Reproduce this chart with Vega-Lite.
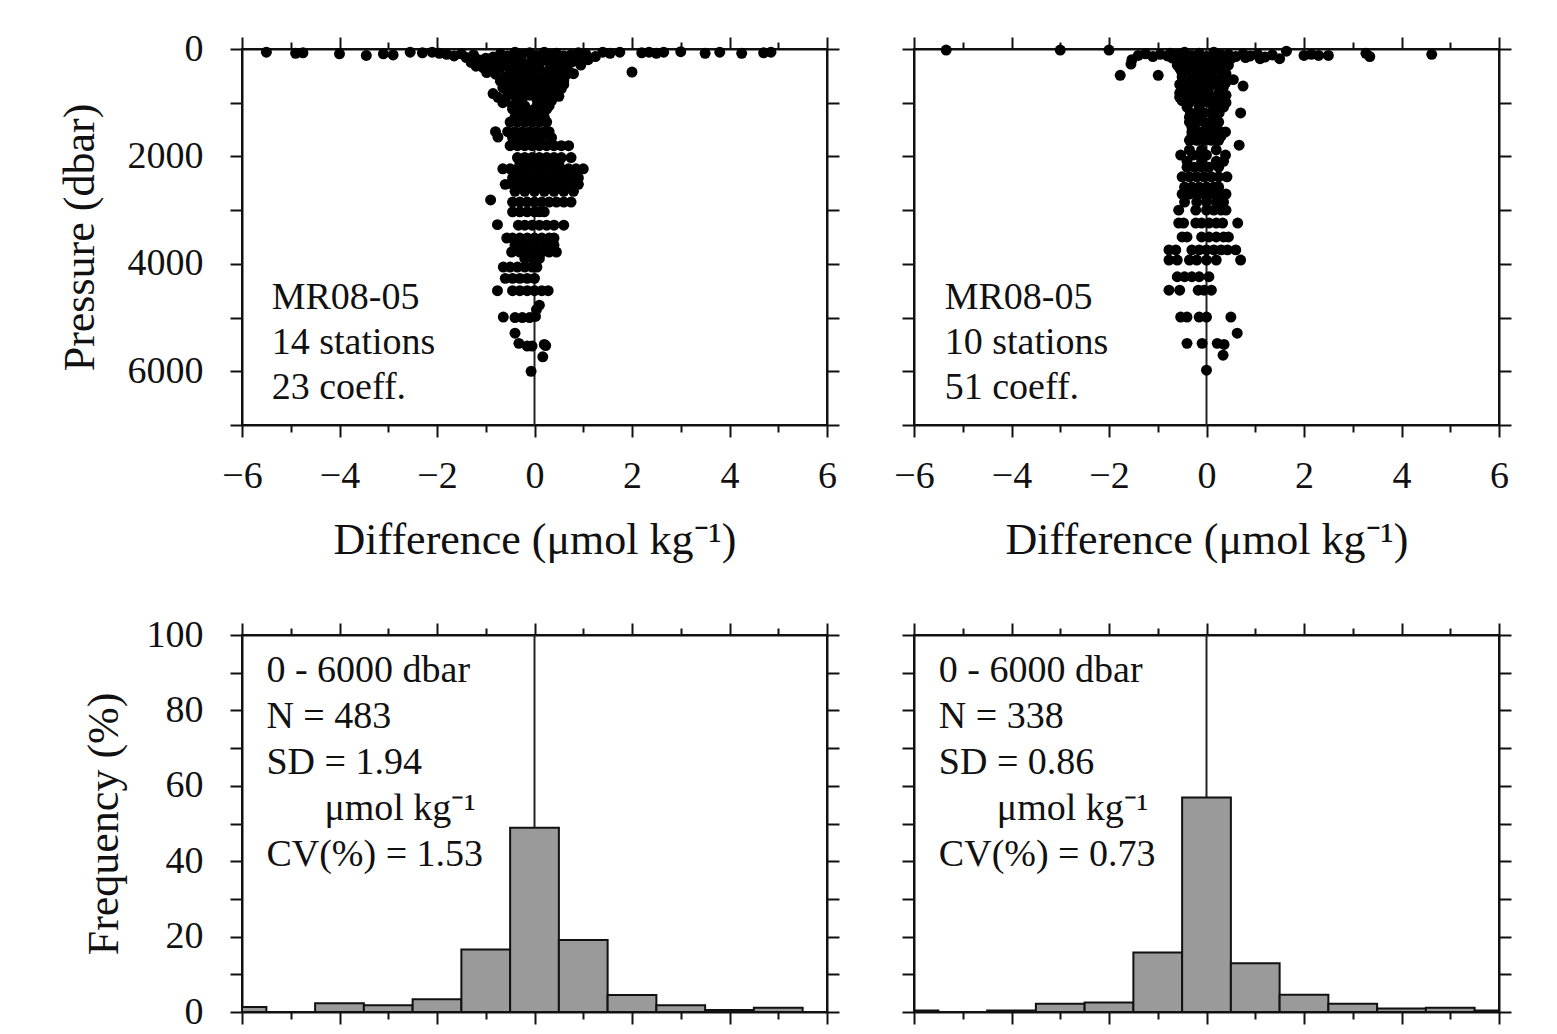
{
  "$schema": "https://vega.github.io/schema/vega-lite/v6.json",
  "padding": {"left": 57, "top": 29, "right": 5, "bottom": 5},
  "background": "white",
  "columns": 2,
  "spacing": {"row": 52, "column": 51},
  "datasets": {
    "left": [
      {"pres":60,"diff":-5.5},{"pres":80,"diff":-4.9},{"pres":70,"diff":-4.75},{"pres":90,"diff":-4.0},{"pres":120,"diff":-3.45},{"pres":90,"diff":-3.1},{"pres":110,"diff":-2.9},{"pres":60,"diff":-2.55},{"pres":70,"diff":-2.3},{"pres":60,"diff":-2.1},{"pres":80,"diff":-1.95},{"pres":100,"diff":-1.8},{"pres":130,"diff":-1.65},{"pres":90,"diff":-1.5},{"pres":160,"diff":-1.4},{"pres":110,"diff":-1.25},{"pres":200,"diff":-1.15},{"pres":350,"diff":-1.05},{"pres":440,"diff":-0.98},{"pres":150,"diff":-0.85},{"pres":90,"diff":-0.7},{"pres":130,"diff":-0.55},{"pres":60,"diff":-0.4},{"pres":100,"diff":-0.25},{"pres":70,"diff":-0.1},{"pres":120,"diff":0.05},{"pres":60,"diff":0.2},{"pres":100,"diff":0.35},{"pres":80,"diff":0.45},{"pres":130,"diff":0.6},{"pres":110,"diff":0.75},{"pres":70,"diff":0.9},{"pres":90,"diff":1.05},{"pres":140,"diff":1.25},{"pres":60,"diff":1.4},{"pres":80,"diff":1.55},{"pres":60,"diff":1.75},{"pres":430,"diff":2.0},{"pres":70,"diff":2.2},{"pres":60,"diff":2.35},{"pres":80,"diff":2.5},{"pres":60,"diff":2.65},{"pres":50,"diff":3.0},{"pres":80,"diff":3.5},{"pres":60,"diff":3.8},{"pres":80,"diff":4.25},{"pres":70,"diff":4.7},{"pres":60,"diff":4.85},
      {"pres":170,"diff":-1.0},{"pres":180,"diff":-0.7},{"pres":170,"diff":-0.35},{"pres":180,"diff":-0.05},{"pres":170,"diff":0.25},{"pres":180,"diff":0.55},{"pres":170,"diff":0.85},
      {"pres":250,"diff":-1.3},{"pres":300,"diff":-1.1},{"pres":220,"diff":-0.9},{"pres":280,"diff":-0.75},{"pres":200,"diff":-0.6},{"pres":260,"diff":-0.45},{"pres":220,"diff":-0.3},{"pres":280,"diff":-0.15},{"pres":240,"diff":0},{"pres":210,"diff":0.15},{"pres":260,"diff":0.3},{"pres":230,"diff":0.45},{"pres":200,"diff":0.6},{"pres":250,"diff":0.75},{"pres":230,"diff":0.9},{"pres":200,"diff":1.1},
      {"pres":320,"diff":-1.2},{"pres":320,"diff":-0.85},{"pres":310,"diff":-0.55},{"pres":320,"diff":-0.25},{"pres":310,"diff":0.05},{"pres":320,"diff":0.35},{"pres":310,"diff":0.65},{"pres":300,"diff":0.95},
      {"pres":390,"diff":-0.9},{"pres":350,"diff":-0.7},{"pres":420,"diff":-0.5},{"pres":380,"diff":-0.35},{"pres":450,"diff":-0.2},{"pres":400,"diff":-0.05},{"pres":360,"diff":0.1},{"pres":430,"diff":0.25},{"pres":390,"diff":0.4},{"pres":350,"diff":0.55},{"pres":420,"diff":0.7},
      {"pres":470,"diff":-0.8},{"pres":470,"diff":-0.5},{"pres":460,"diff":-0.3},{"pres":470,"diff":0},{"pres":460,"diff":0.25},{"pres":470,"diff":0.5},{"pres":460,"diff":0.8},
      {"pres":520,"diff":-0.6},{"pres":560,"diff":-0.4},{"pres":500,"diff":-0.25},{"pres":580,"diff":-0.1},{"pres":520,"diff":0.05},{"pres":560,"diff":0.2},{"pres":500,"diff":0.35},{"pres":540,"diff":0.5},{"pres":480,"diff":0.65},
      {"pres":600,"diff":-0.7},{"pres":600,"diff":-0.45},{"pres":600,"diff":-0.2},{"pres":600,"diff":0.1},{"pres":600,"diff":0.35},{"pres":590,"diff":0.6},
      {"pres":640,"diff":-0.5},{"pres":680,"diff":-0.3},{"pres":620,"diff":-0.15},{"pres":700,"diff":0},{"pres":650,"diff":0.15},{"pres":690,"diff":0.3},{"pres":630,"diff":0.45},{"pres":660,"diff":0.6},
      {"pres":720,"diff":-0.65},{"pres":720,"diff":-0.4},{"pres":710,"diff":-0.1},{"pres":720,"diff":0.2},{"pres":710,"diff":0.5},
      {"pres":760,"diff":-0.55},{"pres":800,"diff":-0.35},{"pres":740,"diff":-0.2},{"pres":780,"diff":-0.05},{"pres":820,"diff":0.1},{"pres":760,"diff":0.25},{"pres":800,"diff":0.4},{"pres":740,"diff":0.55},
      {"pres":850,"diff":-0.55},{"pres":850,"diff":-0.3},{"pres":840,"diff":0},{"pres":850,"diff":0.3},{"pres":840,"diff":0.45},
      {"pres":830,"diff":-0.85},{"pres":900,"diff":-0.75},{"pres":960,"diff":-0.6},{"pres":880,"diff":-0.4},{"pres":920,"diff":-0.25},{"pres":860,"diff":-0.1},{"pres":940,"diff":0.05},{"pres":900,"diff":0.2},{"pres":960,"diff":0.35},{"pres":880,"diff":0.5},{"pres":1000,"diff":-0.65},{"pres":1000,"diff":-0.3},{"pres":1010,"diff":0.2},
      {"pres":1060,"diff":-0.45},{"pres":1060,"diff":-0.2},{"pres":1060,"diff":0.05},{"pres":1060,"diff":0.3},
      {"pres":1120,"diff":-0.45},{"pres":1120,"diff":-0.3},{"pres":1130,"diff":-0.15},{"pres":1120,"diff":0},{"pres":1130,"diff":0.15},{"pres":1120,"diff":0.25},{"pres":1200,"diff":-0.35},{"pres":1200,"diff":-0.1},{"pres":1200,"diff":0.1},
      {"pres":1270,"diff":-0.4},{"pres":1270,"diff":-0.2},{"pres":1270,"diff":0},{"pres":1270,"diff":0.2},
      {"pres":1360,"diff":-0.5},{"pres":1360,"diff":-0.35},{"pres":1360,"diff":-0.2},{"pres":1360,"diff":-0.05},{"pres":1360,"diff":0.1},{"pres":1360,"diff":0.25},
      {"pres":1540,"diff":-0.8},{"pres":1540,"diff":-0.55},{"pres":1540,"diff":-0.4},{"pres":1540,"diff":-0.25},{"pres":1540,"diff":-0.1},{"pres":1540,"diff":0.05},{"pres":1540,"diff":0.2},{"pres":1540,"diff":0.3},
      {"pres":1640,"diff":-0.75},{"pres":1650,"diff":-0.45},{"pres":1650,"diff":-0.3},{"pres":1650,"diff":-0.15},{"pres":1650,"diff":0},{"pres":1650,"diff":0.15},{"pres":1650,"diff":0.35},
      {"pres":1800,"diff":-0.5},{"pres":1800,"diff":-0.35},{"pres":1800,"diff":-0.2},{"pres":1800,"diff":-0.05},{"pres":1800,"diff":0.1},{"pres":1800,"diff":0.25},{"pres":1800,"diff":0.4},{"pres":1800,"diff":0.55},{"pres":1800,"diff":0.7},
      {"pres":2020,"diff":-0.35},{"pres":2020,"diff":-0.2},{"pres":2020,"diff":-0.05},{"pres":2020,"diff":0.1},{"pres":2020,"diff":0.25},{"pres":2020,"diff":0.4},{"pres":2020,"diff":0.55},{"pres":2020,"diff":0.75},
      {"pres":2120,"diff":-0.3},{"pres":2120,"diff":-0.1},{"pres":2120,"diff":0.1},{"pres":2120,"diff":0.3},{"pres":2120,"diff":0.5},
      {"pres":2230,"diff":-0.65},{"pres":2230,"diff":-0.5},{"pres":2230,"diff":-0.35},{"pres":2230,"diff":-0.2},{"pres":2230,"diff":-0.05},{"pres":2230,"diff":0.1},{"pres":2230,"diff":0.25},{"pres":2230,"diff":0.4},{"pres":2230,"diff":0.55},{"pres":2230,"diff":0.7},{"pres":2230,"diff":0.85},{"pres":2230,"diff":1.0},
      {"pres":2400,"diff":-0.45},{"pres":2400,"diff":-0.3},{"pres":2400,"diff":-0.15},{"pres":2400,"diff":0},{"pres":2400,"diff":0.15},{"pres":2400,"diff":0.3},{"pres":2400,"diff":0.45},{"pres":2400,"diff":0.6},{"pres":2400,"diff":0.75},{"pres":2400,"diff":0.9},
      {"pres":2520,"diff":-0.6},{"pres":2520,"diff":-0.45},{"pres":2520,"diff":-0.3},{"pres":2520,"diff":-0.15},{"pres":2520,"diff":0},{"pres":2520,"diff":0.15},{"pres":2520,"diff":0.3},{"pres":2520,"diff":0.45},{"pres":2520,"diff":0.6},{"pres":2520,"diff":0.75},{"pres":2520,"diff":0.9},
      {"pres":2650,"diff":-0.4},{"pres":2650,"diff":-0.2},{"pres":2650,"diff":0},{"pres":2650,"diff":0.2},{"pres":2650,"diff":0.4},{"pres":2650,"diff":0.6},{"pres":2650,"diff":0.8},
      {"pres":2810,"diff":-0.9},{"pres":2850,"diff":-0.45},{"pres":2850,"diff":-0.3},{"pres":2850,"diff":-0.15},{"pres":2850,"diff":0},{"pres":2850,"diff":0.15},{"pres":2850,"diff":0.3},{"pres":2850,"diff":0.45},{"pres":2850,"diff":0.6},{"pres":2850,"diff":0.75},
      {"pres":3030,"diff":-0.45},{"pres":3030,"diff":-0.3},{"pres":3030,"diff":-0.15},{"pres":3030,"diff":0},{"pres":3030,"diff":0.1},{"pres":3030,"diff":0.2},
      {"pres":3270,"diff":-0.76},{"pres":3280,"diff":-0.33},{"pres":3280,"diff":-0.2},{"pres":3280,"diff":-0.05},{"pres":3280,"diff":0.1},{"pres":3280,"diff":0.25},{"pres":3280,"diff":0.4},{"pres":3280,"diff":0.6},
      {"pres":3520,"diff":-0.57},{"pres":3520,"diff":-0.45},{"pres":3520,"diff":-0.3},{"pres":3520,"diff":-0.15},{"pres":3520,"diff":0},{"pres":3520,"diff":0.15},{"pres":3520,"diff":0.3},{"pres":3520,"diff":0.4},
      {"pres":3650,"diff":-0.4},{"pres":3650,"diff":-0.2},{"pres":3650,"diff":0},{"pres":3650,"diff":0.2},{"pres":3650,"diff":0.4},
      {"pres":3780,"diff":-0.47},{"pres":3780,"diff":-0.3},{"pres":3780,"diff":-0.15},{"pres":3780,"diff":0},{"pres":3780,"diff":0.15},{"pres":3780,"diff":0.3},{"pres":3780,"diff":0.45},
      {"pres":3900,"diff":-0.2},{"pres":3900,"diff":-0.05},{"pres":3900,"diff":0.1},
      {"pres":4060,"diff":-0.64},{"pres":4060,"diff":-0.5},{"pres":4060,"diff":-0.35},{"pres":4060,"diff":-0.2},{"pres":4060,"diff":-0.05},{"pres":4060,"diff":0.05},
      {"pres":4270,"diff":-0.6},{"pres":4270,"diff":-0.45},{"pres":4270,"diff":-0.3},{"pres":4270,"diff":-0.15},{"pres":4270,"diff":0},
      {"pres":4500,"diff":-0.76},{"pres":4500,"diff":-0.45},{"pres":4500,"diff":-0.3},{"pres":4500,"diff":-0.15},{"pres":4500,"diff":0},{"pres":4500,"diff":0.15},{"pres":4500,"diff":0.28},
      {"pres":4770,"diff":0.1},{"pres":4850,"diff":0.04},
      {"pres":4990,"diff":-0.64},{"pres":5000,"diff":-0.4},{"pres":5000,"diff":-0.25},{"pres":5000,"diff":-0.1},{"pres":4980,"diff":0.02},
      {"pres":5290,"diff":-0.4},{"pres":5480,"diff":-0.32},{"pres":5530,"diff":-0.15},{"pres":5530,"diff":-0.05},{"pres":5500,"diff":0.2},{"pres":5520,"diff":0.23},{"pres":5730,"diff":0.17},{"pres":6000,"diff":-0.07}
    ],
    "right": [
      {"pres":20,"diff":-5.34},{"pres":20,"diff":-3.0},{"pres":20,"diff":-2.0},{"pres":200,"diff":-1.53},{"pres":280,"diff":-1.55},{"pres":120,"diff":-1.4},{"pres":90,"diff":-1.25},{"pres":140,"diff":-1.1},{"pres":100,"diff":-0.95},{"pres":130,"diff":-0.8},{"pres":80,"diff":-0.74},{"pres":490,"diff":-1.77},{"pres":490,"diff":-0.99},
      {"pres":100,"diff":0.45},{"pres":140,"diff":0.6},{"pres":90,"diff":0.75},{"pres":130,"diff":0.9},{"pres":100,"diff":1.05},{"pres":150,"diff":1.2},{"pres":110,"diff":1.35},{"pres":180,"diff":1.5},{"pres":40,"diff":1.64},{"pres":120,"diff":2.0},{"pres":100,"diff":2.15},{"pres":120,"diff":2.3},{"pres":120,"diff":2.5},{"pres":80,"diff":3.27},{"pres":140,"diff":3.35},{"pres":100,"diff":4.62},{"pres":570,"diff":0.55},{"pres":690,"diff":0.75},
      {"pres":100,"diff":-0.6},{"pres":60,"diff":-0.45},{"pres":120,"diff":-0.3},{"pres":80,"diff":-0.15},{"pres":140,"diff":0},{"pres":60,"diff":0.15},{"pres":110,"diff":0.3},
      {"pres":170,"diff":-0.7},{"pres":170,"diff":-0.4},{"pres":180,"diff":-0.1},{"pres":170,"diff":0.2},{"pres":180,"diff":0.5},{"pres":160,"diff":0.8},{"pres":180,"diff":1.1},
      {"pres":220,"diff":-0.5},{"pres":260,"diff":-0.35},{"pres":200,"diff":-0.2},{"pres":240,"diff":-0.05},{"pres":280,"diff":0.1},{"pres":220,"diff":0.25},{"pres":260,"diff":0.4},
      {"pres":300,"diff":-0.6},{"pres":310,"diff":-0.45},{"pres":300,"diff":-0.15},{"pres":310,"diff":0.2},{"pres":300,"diff":0.45},
      {"pres":360,"diff":-0.55},{"pres":400,"diff":-0.4},{"pres":340,"diff":-0.25},{"pres":380,"diff":-0.1},{"pres":420,"diff":0.05},{"pres":360,"diff":0.2},{"pres":400,"diff":0.35},
      {"pres":450,"diff":-0.5},{"pres":460,"diff":-0.2},{"pres":450,"diff":0.1},{"pres":460,"diff":0.4},
      {"pres":520,"diff":-0.5},{"pres":560,"diff":-0.3},{"pres":500,"diff":-0.15},{"pres":540,"diff":0},{"pres":580,"diff":0.15},{"pres":520,"diff":0.3},
      {"pres":620,"diff":-0.5},{"pres":600,"diff":-0.2},{"pres":610,"diff":0.1},{"pres":620,"diff":0.4},
      {"pres":660,"diff":-0.55},{"pres":700,"diff":-0.4},{"pres":640,"diff":-0.25},{"pres":680,"diff":-0.1},{"pres":720,"diff":0.05},{"pres":660,"diff":0.2},{"pres":700,"diff":0.35},
      {"pres":760,"diff":-0.5},{"pres":770,"diff":-0.3},{"pres":760,"diff":0},{"pres":770,"diff":0.3},
      {"pres":820,"diff":-0.55},{"pres":860,"diff":-0.4},{"pres":800,"diff":-0.2},{"pres":840,"diff":-0.05},{"pres":880,"diff":0.1},{"pres":820,"diff":0.25},{"pres":860,"diff":0.4},
      {"pres":900,"diff":-0.55},{"pres":910,"diff":-0.25},{"pres":900,"diff":0.05},{"pres":910,"diff":0.3},
      {"pres":960,"diff":-0.5},{"pres":1000,"diff":-0.35},{"pres":940,"diff":-0.2},{"pres":980,"diff":-0.05},{"pres":1020,"diff":0.1},{"pres":960,"diff":0.25},{"pres":1000,"diff":0.4},
      {"pres":1080,"diff":-0.4},{"pres":1080,"diff":-0.15},{"pres":1080,"diff":0.15},{"pres":1080,"diff":0.35},
      {"pres":1190,"diff":-0.33},{"pres":1190,"diff":-0.2},{"pres":1190,"diff":-0.05},{"pres":1190,"diff":0.1},{"pres":1190,"diff":0.26},{"pres":1190,"diff":0.7},
      {"pres":1270,"diff":-0.35},{"pres":1270,"diff":-0.1},{"pres":1270,"diff":0.15},
      {"pres":1360,"diff":-0.35},{"pres":1360,"diff":-0.2},{"pres":1360,"diff":-0.05},{"pres":1360,"diff":0.1},{"pres":1360,"diff":0.25},
      {"pres":1450,"diff":-0.3},{"pres":1450,"diff":0},{"pres":1450,"diff":0.2},
      {"pres":1545,"diff":-0.3},{"pres":1545,"diff":-0.15},{"pres":1545,"diff":0},{"pres":1545,"diff":0.15},{"pres":1545,"diff":0.3},{"pres":1545,"diff":0.39},
      {"pres":1620,"diff":-0.3},{"pres":1620,"diff":0.05},{"pres":1620,"diff":0.3},
      {"pres":1700,"diff":-0.35},{"pres":1700,"diff":-0.2},{"pres":1700,"diff":-0.05},{"pres":1700,"diff":0.1},{"pres":1700,"diff":0.25},{"pres":1790,"diff":0.67},
      {"pres":1880,"diff":-0.35},{"pres":1880,"diff":-0.1},{"pres":1880,"diff":0.2},
      {"pres":1975,"diff":-0.53},{"pres":1975,"diff":-0.28},{"pres":1975,"diff":-0.15},{"pres":1975,"diff":0},{"pres":1975,"diff":0.39},
      {"pres":2090,"diff":-0.4},{"pres":2090,"diff":-0.1},{"pres":2090,"diff":0.2},{"pres":2090,"diff":0.35},
      {"pres":2200,"diff":-0.4},{"pres":2200,"diff":-0.25},{"pres":2200,"diff":-0.1},{"pres":2200,"diff":0.05},{"pres":2200,"diff":0.25},
      {"pres":2380,"diff":-0.5},{"pres":2380,"diff":-0.35},{"pres":2380,"diff":-0.2},{"pres":2380,"diff":-0.05},{"pres":2380,"diff":0.1},{"pres":2380,"diff":0.25},{"pres":2380,"diff":0.42},
      {"pres":2570,"diff":-0.45},{"pres":2570,"diff":-0.3},{"pres":2570,"diff":-0.15},{"pres":2570,"diff":0},{"pres":2570,"diff":0.15},{"pres":2570,"diff":0.25},
      {"pres":2700,"diff":-0.5},{"pres":2700,"diff":-0.35},{"pres":2700,"diff":-0.2},{"pres":2700,"diff":-0.05},{"pres":2700,"diff":0.1},{"pres":2700,"diff":0.25},{"pres":2700,"diff":0.4},
      {"pres":2850,"diff":-0.45},{"pres":2850,"diff":-0.2},{"pres":2850,"diff":0},{"pres":2850,"diff":0.2},{"pres":2850,"diff":0.35},
      {"pres":3000,"diff":-0.57},{"pres":3000,"diff":-0.22},{"pres":3000,"diff":0},{"pres":3000,"diff":0.15},{"pres":3000,"diff":0.3},{"pres":3000,"diff":0.4},
      {"pres":3240,"diff":-0.57},{"pres":3240,"diff":-0.47},{"pres":3240,"diff":-0.22},{"pres":3240,"diff":-0.1},{"pres":3240,"diff":0.05},{"pres":3240,"diff":0.2},{"pres":3240,"diff":0.33},{"pres":3240,"diff":0.64},
      {"pres":3500,"diff":-0.5},{"pres":3500,"diff":-0.4},{"pres":3500,"diff":-0.1},{"pres":3500,"diff":0.05},{"pres":3500,"diff":0.2},{"pres":3500,"diff":0.35},{"pres":3500,"diff":0.45},
      {"pres":3740,"diff":-0.77},{"pres":3740,"diff":-0.63},{"pres":3740,"diff":-0.3},{"pres":3740,"diff":-0.15},{"pres":3740,"diff":0},{"pres":3740,"diff":0.15},{"pres":3740,"diff":0.3},{"pres":3740,"diff":0.43},{"pres":3740,"diff":0.6},
      {"pres":3930,"diff":-0.77},{"pres":3930,"diff":-0.6},{"pres":3930,"diff":-0.35},{"pres":3930,"diff":-0.2},{"pres":3930,"diff":0},{"pres":3930,"diff":0.2},{"pres":3930,"diff":0.7},
      {"pres":4240,"diff":-0.6},{"pres":4240,"diff":-0.45},{"pres":4240,"diff":-0.3},{"pres":4240,"diff":-0.15},{"pres":4240,"diff":0.05},
      {"pres":4490,"diff":-0.77},{"pres":4490,"diff":-0.55},{"pres":4490,"diff":-0.17},{"pres":4490,"diff":-0.05},{"pres":4490,"diff":0.1},
      {"pres":4990,"diff":-0.53},{"pres":4990,"diff":-0.4},{"pres":4990,"diff":-0.15},{"pres":4990,"diff":0},{"pres":4990,"diff":0.5},
      {"pres":5290,"diff":0.63},{"pres":5480,"diff":-0.4},{"pres":5480,"diff":-0.09},{"pres":5480,"diff":0.22},{"pres":5500,"diff":0.36},{"pres":5700,"diff":0.34},{"pres":5980,"diff":0}
    ],
    "histLeft": [
      {"lo":-6,"hi":-5.5,"freq":1.3},{"lo":-4.5,"hi":-3.5,"freq":2.3},{"lo":-3.5,"hi":-2.5,"freq":1.8},{"lo":-2.5,"hi":-1.5,"freq":3.4},{"lo":-1.5,"hi":-0.5,"freq":16.6},{"lo":-0.5,"hi":0.5,"freq":48.9},{"lo":0.5,"hi":1.5,"freq":19.1},{"lo":1.5,"hi":2.5,"freq":4.5},{"lo":2.5,"hi":3.5,"freq":1.8},{"lo":3.5,"hi":4.5,"freq":0.5},{"lo":4.5,"hi":5.5,"freq":1.1}
    ],
    "histRight": [
      {"lo":-6,"hi":-5.5,"freq":0.4},{"lo":-4.5,"hi":-3.5,"freq":0.4},{"lo":-3.5,"hi":-2.5,"freq":2.2},{"lo":-2.5,"hi":-1.5,"freq":2.5},{"lo":-1.5,"hi":-0.5,"freq":15.8},{"lo":-0.5,"hi":0.5,"freq":56.9},{"lo":0.5,"hi":1.5,"freq":12.9},{"lo":1.5,"hi":2.5,"freq":4.6},{"lo":2.5,"hi":3.5,"freq":2.2},{"lo":3.5,"hi":4.5,"freq":0.9},{"lo":4.5,"hi":5.5,"freq":1.1},{"lo":5.5,"hi":6,"freq":0.4}
    ]
  },
  "concat": [
    {
      "width": 585, "height": 376,
      "layer": [
        {"data": {"values": [{}]}, "mark": {"type": "rule", "color": "#222", "strokeWidth": 2},
         "encoding": {"x": {"datum": 0, "type": "quantitative", "scale": {"domain": [-6, 6], "nice": false, "zero": false},
           "axis": {"orient": "bottom", "values": [-6,-5,-4,-3,-2,-1,0,1,2,3,4,5,6], "labelExpr": "datum.value % 2 === 0 ? datum.label : ''", "tickSize": {"condition": {"test": "datum.value % 2 === 0", "value": 12}, "value": 7}, "labelPadding": 20, "title": "Difference (μmol kg⁻¹)", "titlePadding": 23}}}},
        {"data": {"name": "left"}, "mark": {"type": "circle", "color": "black", "opacity": 1, "size": 120},
         "encoding": {
           "x": {"field": "diff", "type": "quantitative", "scale": {"domain": [-6, 6], "nice": false, "zero": false},
             "axis": {"orient": "top", "values": [-6,-5,-4,-3,-2,-1,0,1,2,3,4,5,6], "labels": false, "title": null, "tickSize": {"condition": {"test": "datum.value % 2 === 0", "value": 12}, "value": 7}}},
           "y": {"field": "pres", "type": "quantitative", "scale": {"domain": [0, 7000], "reverse": true, "nice": false, "zero": false},
             "axis": {"orient": "left", "values": [0,1000,2000,3000,4000,5000,6000,7000], "format": "d", "labelExpr": "datum.value % 2000 === 0 ? datum.label : ''", "tickSize": 12, "labelPadding": 27, "title": "Pressure (dbar)", "titlePadding": 25}}}},
        {"data": {"values": [{}]}, "mark": {"type": "text", "text": ["MR08-05", "14 stations", "23 coeff."], "align": "left", "baseline": "top", "font": "Liberation Serif", "fontSize": 38, "lineHeight": 45, "color": "#111"},
         "encoding": {"x": {"datum": -5.39, "type": "quantitative", "axis": null},
           "y": {"datum": 4290, "type": "quantitative", "axis": {"orient": "right", "values": [0,1000,2000,3000,4000,5000,6000,7000], "labels": false, "title": null, "tickSize": 12}}}}
      ],
      "resolve": {"axis": {"x": "independent", "y": "independent"}}
    },
    {
      "width": 585, "height": 376,
      "layer": [
        {"data": {"values": [{}]}, "mark": {"type": "rule", "color": "#222", "strokeWidth": 2},
         "encoding": {"x": {"datum": 0, "type": "quantitative", "scale": {"domain": [-6, 6], "nice": false, "zero": false},
           "axis": {"orient": "bottom", "values": [-6,-5,-4,-3,-2,-1,0,1,2,3,4,5,6], "labelExpr": "datum.value % 2 === 0 ? datum.label : ''", "tickSize": {"condition": {"test": "datum.value % 2 === 0", "value": 12}, "value": 7}, "labelPadding": 20, "title": "Difference (μmol kg⁻¹)", "titlePadding": 23}}}},
        {"data": {"name": "right"}, "mark": {"type": "circle", "color": "black", "opacity": 1, "size": 120},
         "encoding": {
           "x": {"field": "diff", "type": "quantitative", "scale": {"domain": [-6, 6], "nice": false, "zero": false},
             "axis": {"orient": "top", "values": [-6,-5,-4,-3,-2,-1,0,1,2,3,4,5,6], "labels": false, "title": null, "tickSize": {"condition": {"test": "datum.value % 2 === 0", "value": 12}, "value": 7}}},
           "y": {"field": "pres", "type": "quantitative", "scale": {"domain": [0, 7000], "reverse": true, "nice": false, "zero": false},
             "axis": {"orient": "left", "values": [0,1000,2000,3000,4000,5000,6000,7000], "labels": false, "tickSize": 12, "title": null}}}},
        {"data": {"values": [{}]}, "mark": {"type": "text", "text": ["MR08-05", "10 stations", "51 coeff."], "align": "left", "baseline": "top", "font": "Liberation Serif", "fontSize": 38, "lineHeight": 45, "color": "#111"},
         "encoding": {"x": {"datum": -5.37, "type": "quantitative", "axis": null},
           "y": {"datum": 4290, "type": "quantitative", "axis": {"orient": "right", "values": [0,1000,2000,3000,4000,5000,6000,7000], "labels": false, "title": null, "tickSize": 12}}}}
      ],
      "resolve": {"axis": {"x": "independent", "y": "independent"}}
    },
    {
      "width": 585, "height": 377,
      "layer": [
        {"data": {"values": [{}]}, "mark": {"type": "rule", "color": "#222", "strokeWidth": 2},
         "encoding": {"x": {"datum": 0, "type": "quantitative", "scale": {"domain": [-6, 6], "nice": false, "zero": false},
           "axis": {"orient": "bottom", "values": [-6,-5,-4,-3,-2,-1,0,1,2,3,4,5,6], "labels": false, "title": null, "tickSize": {"condition": {"test": "datum.value % 2 === 0", "value": 12}, "value": 7}}}}},
        {"data": {"name": "histLeft"}, "mark": {"type": "bar", "fill": "#9a9a9a", "stroke": "#111", "strokeWidth": 2},
         "encoding": {
           "x": {"field": "lo", "type": "quantitative", "scale": {"domain": [-6, 6], "nice": false, "zero": false},
             "axis": {"orient": "top", "values": [-6,-5,-4,-3,-2,-1,0,1,2,3,4,5,6], "labels": false, "title": null, "tickSize": {"condition": {"test": "datum.value % 2 === 0", "value": 12}, "value": 7}}},
           "x2": {"field": "hi"},
           "y": {"field": "freq", "type": "quantitative", "scale": {"domain": [0, 100], "nice": false},
             "axis": {"orient": "left", "values": [0,10,20,30,40,50,60,70,80,90,100], "labelExpr": "datum.value % 20 === 0 ? datum.label : ''", "tickSize": 12, "labelPadding": 27, "title": "Frequency (%)", "titlePadding": 20}},
           "y2": {"datum": 0}}},
        {"data": {"values": [{}]}, "mark": {"type": "text", "text": ["0 - 6000 dbar", "N = 483", "SD = 1.94"], "align": "left", "baseline": "top", "font": "Liberation Serif", "fontSize": 38, "lineHeight": 46, "color": "#111"},
         "encoding": {"x": {"datum": -5.5, "type": "quantitative", "axis": null},
           "y": {"datum": 95.6, "type": "quantitative", "axis": {"orient": "right", "values": [0,10,20,30,40,50,60,70,80,90,100], "labels": false, "title": null, "tickSize": 12}}}},
        {"data": {"values": [{}]}, "mark": {"type": "text", "text": "μmol kg⁻¹", "align": "left", "baseline": "top", "dx": 58, "font": "Liberation Serif", "fontSize": 38, "lineHeight": 46, "color": "#111"},
         "encoding": {"x": {"datum": -5.5, "type": "quantitative", "axis": null}, "y": {"datum": 59.0, "type": "quantitative", "axis": null}}},
        {"data": {"values": [{}]}, "mark": {"type": "text", "text": "CV(%) = 1.53", "align": "left", "baseline": "top", "font": "Liberation Serif", "fontSize": 38, "lineHeight": 46, "color": "#111"},
         "encoding": {"x": {"datum": -5.5, "type": "quantitative", "axis": null}, "y": {"datum": 46.8, "type": "quantitative", "axis": null}}}
      ],
      "resolve": {"axis": {"x": "independent", "y": "independent"}}
    },
    {
      "width": 585, "height": 377,
      "layer": [
        {"data": {"values": [{}]}, "mark": {"type": "rule", "color": "#222", "strokeWidth": 2},
         "encoding": {"x": {"datum": 0, "type": "quantitative", "scale": {"domain": [-6, 6], "nice": false, "zero": false},
           "axis": {"orient": "bottom", "values": [-6,-5,-4,-3,-2,-1,0,1,2,3,4,5,6], "labels": false, "title": null, "tickSize": {"condition": {"test": "datum.value % 2 === 0", "value": 12}, "value": 7}}}}},
        {"data": {"name": "histRight"}, "mark": {"type": "bar", "fill": "#9a9a9a", "stroke": "#111", "strokeWidth": 2},
         "encoding": {
           "x": {"field": "lo", "type": "quantitative", "scale": {"domain": [-6, 6], "nice": false, "zero": false},
             "axis": {"orient": "top", "values": [-6,-5,-4,-3,-2,-1,0,1,2,3,4,5,6], "labels": false, "title": null, "tickSize": {"condition": {"test": "datum.value % 2 === 0", "value": 12}, "value": 7}}},
           "x2": {"field": "hi"},
           "y": {"field": "freq", "type": "quantitative", "scale": {"domain": [0, 100], "nice": false},
             "axis": {"orient": "left", "values": [0,10,20,30,40,50,60,70,80,90,100], "labels": false, "tickSize": 12, "title": null}},
           "y2": {"datum": 0}}},
        {"data": {"values": [{}]}, "mark": {"type": "text", "text": ["0 - 6000 dbar", "N = 338", "SD = 0.86"], "align": "left", "baseline": "top", "font": "Liberation Serif", "fontSize": 38, "lineHeight": 46, "color": "#111"},
         "encoding": {"x": {"datum": -5.49, "type": "quantitative", "axis": null},
           "y": {"datum": 95.6, "type": "quantitative", "axis": {"orient": "right", "values": [0,10,20,30,40,50,60,70,80,90,100], "labels": false, "title": null, "tickSize": 12}}}},
        {"data": {"values": [{}]}, "mark": {"type": "text", "text": "μmol kg⁻¹", "align": "left", "baseline": "top", "dx": 58, "font": "Liberation Serif", "fontSize": 38, "lineHeight": 46, "color": "#111"},
         "encoding": {"x": {"datum": -5.49, "type": "quantitative", "axis": null}, "y": {"datum": 59.0, "type": "quantitative", "axis": null}}},
        {"data": {"values": [{}]}, "mark": {"type": "text", "text": "CV(%) = 0.73", "align": "left", "baseline": "top", "font": "Liberation Serif", "fontSize": 38, "lineHeight": 46, "color": "#111"},
         "encoding": {"x": {"datum": -5.49, "type": "quantitative", "axis": null}, "y": {"datum": 46.8, "type": "quantitative", "axis": null}}}
      ],
      "resolve": {"axis": {"x": "independent", "y": "independent"}}
    }
  ],
  "config": {
    "font": "Liberation Serif",
    "view": {"stroke": "#111", "strokeWidth": 2},
    "axis": {
      "labelFont": "Liberation Serif", "labelFontSize": 38, "labelColor": "#111",
      "titleFont": "Liberation Serif", "titleFontSize": 44, "titleFontWeight": "normal", "titleColor": "#111",
      "tickColor": "#111", "tickWidth": 2, "domainColor": "#111", "domainWidth": 2,
      "grid": false, "labelFlush": false, "labelOverlap": false, "labelBound": false
    }
  }
}
